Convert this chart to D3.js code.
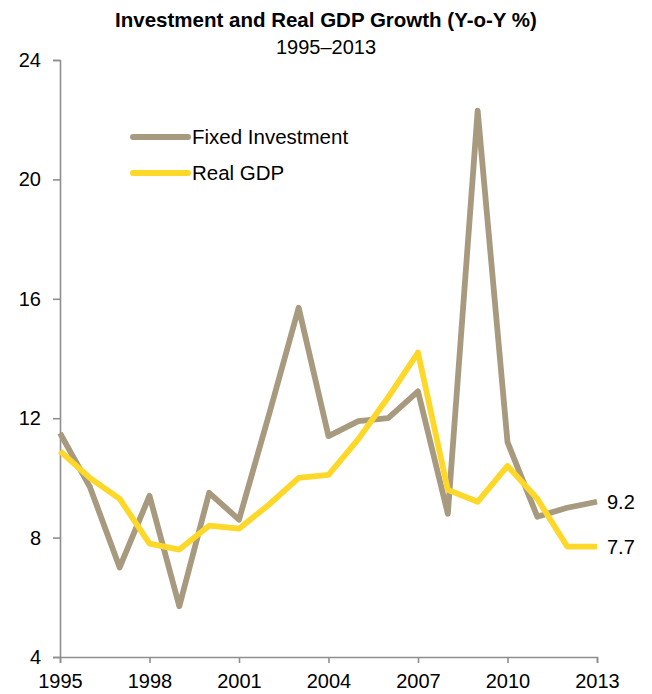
<!DOCTYPE html>
<html>
<head>
<meta charset="utf-8">
<script src="https://cdn.jsdelivr.net/npm/d3@7"></script>
<style>
  body { margin: 0; background: #fff; }
  svg text { font-family: "Liberation Sans", Arial, sans-serif; fill: #000; }
</style>
</head>
<body>
<div id="chart"></div>
<script>
// data
const years = d3.range(1995, 2014);
const fixedInvestment = [11.5, 9.7, 7.0, 9.4, 5.7, 9.5, 8.6, 12.1, 15.7, 11.4, 11.9, 12.0, 12.9, 8.8, 22.3, 11.2, 8.7, 9.0, 9.2];
const realGdp = [10.9, 10.0, 9.3, 7.8, 7.6, 8.4, 8.3, 9.1, 10.0, 10.1, 11.3, 12.7, 14.2, 9.6, 9.2, 10.4, 9.3, 7.7, 7.7];
const yTicks = [4, 8, 12, 16, 20, 24];
const xTicks = [1995, 1998, 2001, 2004, 2007, 2010, 2013];

const series = [
    { name: 'Fixed Investment', values: fixedInvestment, color: '#a89a7f' },
    { name: 'Real GDP', values: realGdp, color: '#fdd829' }
];

const width = 652, height = 694;
const margin = { top: 60, right: 55, bottom: 37, left: 60 };

const svg = d3.select('#chart').append('svg')
    .attr('width', width)
    .attr('height', height);

const x = d3.scaleLinear().domain([1995, 2013]).range([margin.left, width - margin.right]);
const y = d3.scaleLinear().domain([4, 24]).range([height - margin.bottom, margin.top]);

// title
svg.append('text')
    .attr('x', 326).attr('y', 27)
    .attr('text-anchor', 'middle')
    .style('font-size', '20.5px')
    .style('font-weight', 'bold')
    .text('Investment and Real GDP Growth (Y-o-Y %)');

svg.append('text')
    .attr('x', 326).attr('y', 54)
    .attr('text-anchor', 'middle')
    .style('font-size', '20px')
    .text('1995\u20132013');

// axes
const xAxis = svg.append('g')
    .attr('transform', `translate(0,${y(4)})`)
    .call(d3.axisBottom(x).tickValues(xTicks).tickFormat(d3.format('d')).tickSize(6).tickPadding(11));

const yAxis = svg.append('g')
    .attr('transform', `translate(${x(1995)},0)`)
    .call(d3.axisLeft(y).tickValues(yTicks).tickSize(7).tickPadding(12));

[xAxis, yAxis].forEach(a => {
    a.select('.domain').attr('stroke', '#8f8f8f').attr('stroke-width', 1.6);
    a.selectAll('.tick line').attr('stroke', '#8f8f8f').attr('stroke-width', 1.6);
    a.selectAll('.tick text')
        .style('font-size', '20px')
        .style('font-family', '"Liberation Sans", Arial, sans-serif')
        .attr('fill', '#000');
});

// lines
const line = d3.line()
    .x((d, i) => x(years[i]))
    .y(d => y(d));

series.forEach(s => {
    svg.append('path')
        .datum(s.values)
        .attr('fill', 'none')
        .attr('stroke', s.color)
        .attr('stroke-width', 5.8)
        .attr('stroke-linejoin', 'round')
        .attr('d', line);

    // end label
    const last = s.values[s.values.length - 1];
    svg.append('text')
        .attr('x', x(2013) + 10)
        .attr('y', y(last))
        .attr('dy', '0.35em')
        .style('font-size', '20px')
        .text(d3.format('.1f')(last));
});

// legend
const legend = svg.append('g').attr('transform', 'translate(133,137)');
series.forEach((s, i) => {
    const g = legend.append('g').attr('transform', `translate(0,${i * 36})`);
    g.append('line')
        .attr('x1', 0).attr('x2', 55)
        .attr('stroke', s.color)
        .attr('stroke-width', 6)
        .attr('stroke-linecap', 'round');
    g.append('text')
        .attr('x', 59)
        .attr('dy', '0.35em')
        .style('font-size', '20.5px')
        .text(s.name);
});
</script>
</body>
</html>
